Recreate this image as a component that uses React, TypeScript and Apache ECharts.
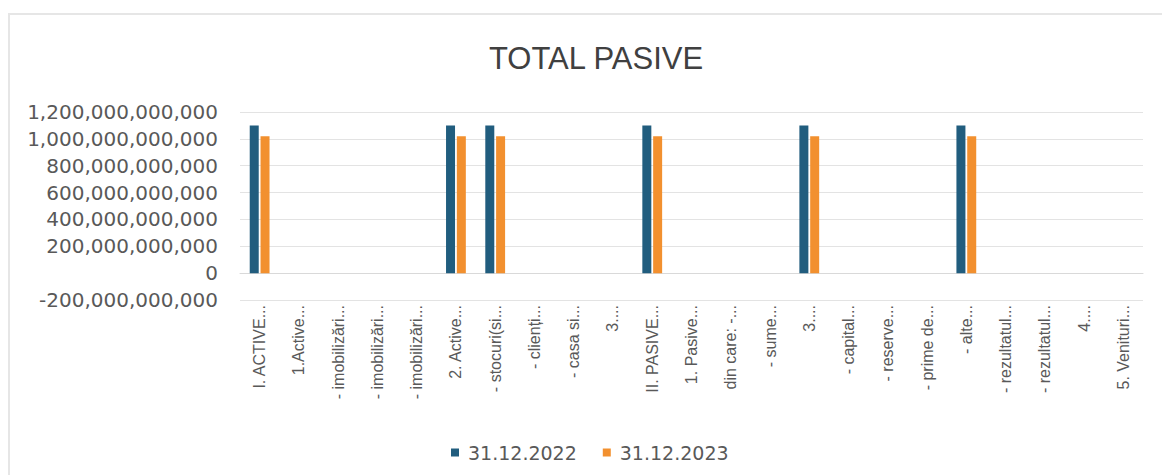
import React, { useEffect, useRef } from "react";
import * as echarts from "echarts";

const categories = [
  "I. ACTIVE...", "1.Active...", "- imobilizări...", "- imobilizări...", "- imobilizări...",
  "2. Active...", "- stocuri(si...", "- clienți...", "- casa si...", "3....",
  "II. PASIVE...", "1. Pasive...", "din care: -...", "- sume...", "3....",
  "- capital...", "- reserve...", "- prime de...", "- alte...", "- rezultatul...",
  "- rezultatul...", "4....", "5. Venituri...",
];

const seriesNames = ["31.12.2022", "31.12.2023"];

const values2022 = [
  1100000000000, null, null, null, null,
  1100000000000, 1100000000000, null, null, null,
  1100000000000, null, null, null, 1100000000000,
  null, null, null, 1100000000000, null,
  null, null, null,
];

const values2023 = [
  1020000000000, null, null, null, null,
  1020000000000, 1020000000000, null, null, null,
  1020000000000, null, null, null, 1020000000000,
  null, null, null, 1020000000000, null,
  null, null, null,
];

const yMin = -200000000000;
const yMax = 1200000000000;
const yInterval = 200000000000;

export default function App() {
  const ref = useRef<HTMLDivElement>(null);
  useEffect(() => {
    if (!ref.current) return;
    const chart = echarts.init(ref.current, null, { renderer: "svg" });
    chart.setOption({
      animation: false,
      backgroundColor: "transparent",
      title: {
        text: "TOTAL PASIVE",
        left: 591,
        textAlign: "center",
        top: 38,
        textStyle: {
          fontFamily: "Liberation Sans",
          fontSize: 31,
          fontWeight: "normal",
          color: "#404040",
        },
      },
      legend: {
        data: seriesNames,
        left: 446,
        top: 438,
        icon: "rect",
        itemWidth: 8,
        itemHeight: 8,
        itemGap: 26,
        textStyle: {
          fontFamily: "DejaVu Sans",
          fontSize: 19,
          color: "#595959",
          padding: [0, 0, 0, 4],
        },
      },
      grid: { left: 240, right: 19, top: 112, bottom: 175 },
      xAxis: {
        type: "category",
        data: categories,
        axisLine: { show: true, lineStyle: { color: "#d9d9d9" } },
        axisTick: { show: false },
        axisLabel: {
          rotate: 90,
          interval: 0,
          margin: 5,
          fontFamily: "Liberation Sans",
          fontSize: 16,
          color: "#595959",
        },
      },
      yAxis: {
        type: "value",
        min: yMin,
        max: yMax,
        interval: yInterval,
        axisLine: { show: false },
        axisTick: { show: false },
        splitLine: { lineStyle: { color: "#e3e3e3" } },
        axisLabel: {
          margin: 22,
          fontFamily: "DejaVu Sans",
          fontSize: 20,
          color: "#595959",
          formatter: (v: number) => v.toLocaleString("en-US"),
        },
      },
      series: [
        {
          name: seriesNames[0],
          type: "bar",
          data: values2022,
          barWidth: 9,
          barGap: "20%",
          itemStyle: { color: "#215d7e" },
        },
        {
          name: seriesNames[1],
          type: "bar",
          data: values2023,
          barWidth: 9,
          barGap: "20%",
          itemStyle: { color: "#f2902f" },
        },
      ],
    });
    return () => chart.dispose();
  }, []);
  return (
    <div style={{ position: "absolute", left: 0, top: 0, width: 1162, height: 475, background: "#ffffff" }}>
      <div
        style={{
          position: "absolute",
          left: 8,
          top: 13,
          width: 1160,
          height: 470,
          borderLeft: "2px solid #e6e6e6",
          borderTop: "2px solid #e6e6e6",
        }}
      />
      <div ref={ref} style={{ position: "absolute", left: 0, top: 0, width: 1162, height: 475 }} />
    </div>
  );
}
